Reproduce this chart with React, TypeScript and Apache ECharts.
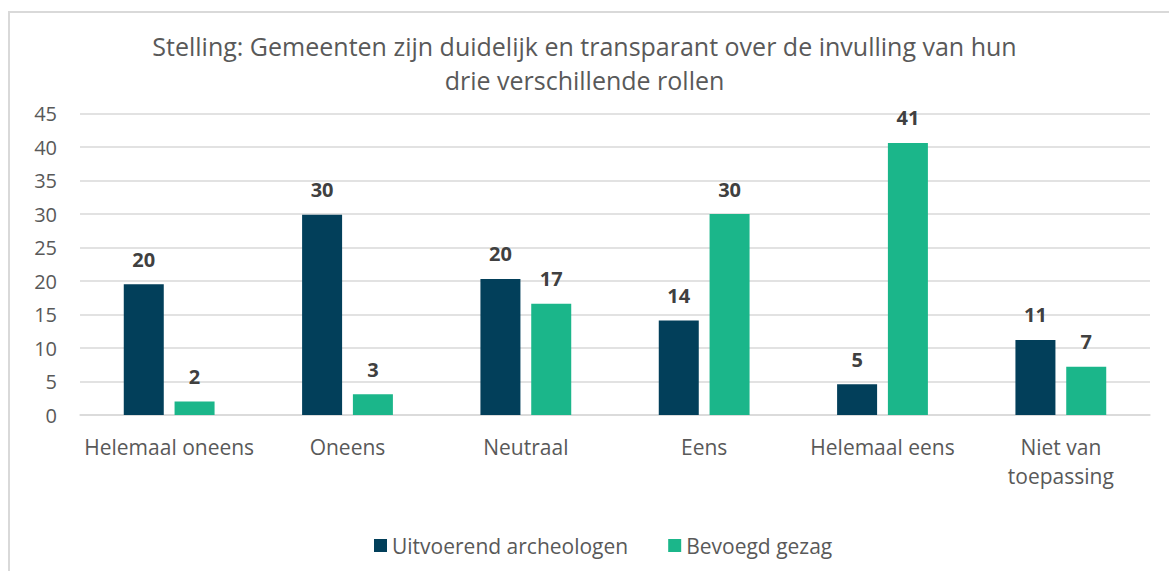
import React, { useEffect, useRef } from "react";
import * as echarts from "echarts";

const titleText = "Stelling: Gemeenten zijn duidelijk en transparant over de invulling van hun\ndrie verschillende rollen";
const categories = ["Helemaal oneens", "Oneens", "Neutraal", "Eens", "Helemaal eens", "Niet van\ntoepassing"];
const seriesNames = ["Uitvoerend archeologen", "Bevoegd gezag"];
const archeologen = [19.5, 29.9, 20.3, 14.1, 4.6, 11.2];
const gezag = [2.0, 3.1, 16.6, 30.0, 40.6, 7.2];
const yMin = 0;
const yMax = 45;
const yInterval = 5;

const FONT = "'Open Sans', sans-serif";
const DARK = "#023F5A";
const GREEN = "#1BB68A";

export default function App() {
  const ref = useRef<HTMLDivElement>(null);
  useEffect(() => {
    if (!ref.current) return;
    const chart = echarts.init(ref.current, null, { renderer: "svg" });
    const label = {
      show: true,
      position: "top",
      distance: 15,
      fontFamily: FONT,
      fontSize: 20,
      fontWeight: "bold",
      color: "#404040",
      formatter: (p: any) => String(Math.round(p.value)),
    };
    chart.setOption({
      animation: false,
      backgroundColor: "#ffffff",
      textStyle: { fontFamily: FONT },
      graphic: [
        {
          type: "rect",
          shape: { x: 9, y: 12, width: 1300, height: 700 },
          style: { fill: "none", stroke: "#d9d9d9", lineWidth: 2 },
          silent: true,
        },
      ],
      title: {
        text: titleText,
        left: "center",
        top: 24,
        textStyle: {
          fontFamily: FONT,
          fontSize: 25,
          fontWeight: "normal",
          color: "#595959",
          lineHeight: 34,
        },
      },
      legend: {
        data: seriesNames,
        left: 369,
        top: 530,
        itemWidth: 13,
        itemHeight: 13,
        itemGap: 40,
        icon: "rect",
        textStyle: { fontFamily: FONT, fontSize: 21, color: "#595959", padding: [0, 0, 0, 0] },
      },
      grid: { left: 80, right: 19, top: 113.5, bottom: 156, containLabel: false },
      xAxis: {
        type: "category",
        data: categories,
        axisLine: { show: true, lineStyle: { color: "#d9d9d9", width: 1.5 } },
        axisTick: { show: false },
        axisLabel: {
          fontFamily: FONT,
          fontSize: 21,
          color: "#595959",
          margin: 17,
          lineHeight: 29,
          interval: 0,
        },
      },
      yAxis: {
        type: "value",
        min: yMin,
        max: yMax,
        interval: yInterval,
        axisLine: { show: false },
        axisTick: { show: false },
        splitLine: { lineStyle: { color: "#d9d9d9", width: 1.5 } },
        axisLabel: { fontFamily: FONT, fontSize: 20, color: "#595959", margin: 23 },
      },
      series: [
        {
          name: seriesNames[0],
          type: "bar",
          data: archeologen,
          barWidth: 40,
          barGap: "27%",
          itemStyle: { color: DARK },
          label,
        },
        {
          name: seriesNames[1],
          type: "bar",
          data: gezag,
          barWidth: 40,
          barGap: "27%",
          itemStyle: { color: GREEN },
          label,
        },
      ],
    });
    return () => chart.dispose();
  }, []);
  return (
    <div
      ref={ref}
      style={{ position: "fixed", left: 0, top: 0, width: 1169, height: 571 }}
    />
  );
}
